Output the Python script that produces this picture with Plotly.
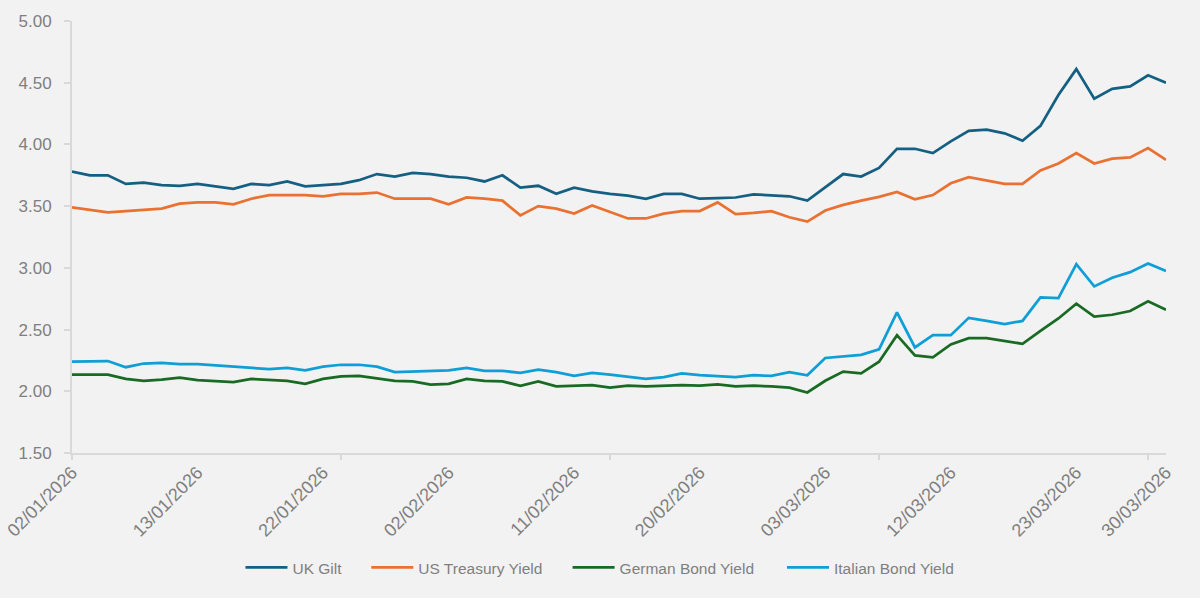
import plotly.graph_objects as go

# Business-day categories (02/01/2026 .. 30/03/2026)
jan = ["02", "05", "06", "07", "08", "09", "12", "13", "14", "15", "16", "19", "20",
       "21", "22", "23", "26", "27", "28", "29", "30"]
feb = ["02", "03", "04", "05", "06", "09", "10", "11", "12", "13", "16", "17", "18",
       "19", "20", "23", "24", "25", "26", "27"]
mar = ["02", "03", "04", "05", "06", "09", "10", "11", "12", "13", "16", "17", "18",
       "19", "20", "23", "24", "25", "26", "27", "30"]
dates = ([d + "/01/2026" for d in jan] + [d + "/02/2026" for d in feb]
         + [d + "/03/2026" for d in mar])

uk_gilt = [3.78, 3.75, 3.75, 3.68, 3.69, 3.67, 3.665, 3.68, 3.66, 3.64, 3.68, 3.67, 3.70,
           3.66, 3.67, 3.68, 3.71, 3.76, 3.74, 3.77, 3.76, 3.74, 3.73, 3.70, 3.75, 3.65,
           3.665, 3.60, 3.65, 3.62, 3.60, 3.585, 3.56, 3.60, 3.60, 3.56, 3.565, 3.57, 3.595,
           3.585, 3.58, 3.545, 3.65, 3.76, 3.74, 3.81, 3.965, 3.965, 3.93, 4.025, 4.11, 4.12,
           4.09, 4.03, 4.15, 4.40, 4.61, 4.37, 4.45, 4.47, 4.56, 4.50]
us_treasury = [3.49, 3.47, 3.45, 3.46, 3.47, 3.48, 3.52, 3.53, 3.53, 3.515, 3.56, 3.59, 3.59,
               3.59, 3.58, 3.60, 3.60, 3.61, 3.56, 3.56, 3.56, 3.515, 3.57, 3.56, 3.545, 3.425,
               3.50, 3.48, 3.44, 3.505, 3.455, 3.40, 3.40, 3.44, 3.46, 3.46, 3.53, 3.435, 3.445,
               3.46, 3.41, 3.375, 3.465, 3.51, 3.545, 3.575, 3.615, 3.555, 3.59, 3.685, 3.735,
               3.71, 3.68, 3.68, 3.79, 3.845, 3.93, 3.845, 3.885, 3.895, 3.97, 3.875]
german = [2.135, 2.135, 2.135, 2.10, 2.085, 2.095, 2.11, 2.09, 2.085, 2.075, 2.10, 2.09, 2.085,
          2.06, 2.10, 2.12, 2.125, 2.105, 2.085, 2.08, 2.055, 2.06, 2.10, 2.085, 2.08, 2.045,
          2.08, 2.04, 2.045, 2.05, 2.03, 2.045, 2.04, 2.045, 2.05, 2.045, 2.055, 2.04, 2.045,
          2.04, 2.03, 1.99, 2.085, 2.16, 2.145, 2.24, 2.455, 2.29, 2.275, 2.38, 2.43, 2.43,
          2.41, 2.385, 2.49, 2.59, 2.71, 2.605, 2.62, 2.65, 2.73, 2.66]
italian = [2.24, 2.245, 2.245, 2.195, 2.225, 2.23, 2.22, 2.22, 2.21, 2.195, 2.185, 2.18, 2.19,
           2.17, 2.20, 2.215, 2.215, 2.20, 2.155, 2.16, 2.16, 2.17, 2.19, 2.165, 2.165, 2.15,
           2.175, 2.155, 2.125, 2.15, 2.135, 2.115, 2.10, 2.115, 2.145, 2.13, 2.125, 2.115,
           2.13, 2.125, 2.155, 2.13, 2.27, 2.285, 2.295, 2.34, 2.64, 2.355, 2.455, 2.455,
           2.595, 2.57, 2.545, 2.57, 2.76, 2.755, 3.03, 2.85, 2.92, 2.965, 3.035, 2.975]

series_names = ["UK Gilt", "US Treasury Yield", "German Bond Yield", "Italian Bond Yield"]
series_values = [uk_gilt, us_treasury, german, italian]
series_colors = ["#156082", "#E97132", "#196B24", "#0F9ED5"]
legend_ids = ["legend", "legend2", "legend3", "legend4"]
legend_x = [0.154, 0.269, 0.453, 0.649]   # left edges of the legend entries (paper units)

label_idx = [0, 7, 14, 21, 28, 35, 42, 49, 56, 61]
tick_labels = [dates[i] for i in label_idx]
tick_marks = [dates[i] for i in range(0, len(dates), 15)]

FONT = "Liberation Sans, Arial, sans-serif"
GREY_TXT = "#7f7f7f"
AXIS_C = "#d9d9d9"
BG = "#f2f2f2"

fig = go.Figure()
for name, vals, col, lg in zip(series_names, series_values, series_colors, legend_ids):
    fig.add_trace(go.Scatter(x=dates, y=vals, name=name, mode="lines", legend=lg,
                             line=dict(color=col, width=2.75)))

# helper trace carrying the secondary axis used only for the x tick marks
fig.add_trace(go.Scatter(x=dates, y=uk_gilt, xaxis="x2", mode="lines",
                         line=dict(width=0), opacity=0, showlegend=False,
                         hoverinfo="skip"))

legend_style = dict(orientation="h", xanchor="left", y=-0.266, yanchor="middle",
                    font=dict(family=FONT, size=15.5, color=GREY_TXT),
                    itemwidth=42, bgcolor="rgba(0,0,0,0)")
legends = {lg: dict(legend_style, x=lx) for lg, lx in zip(legend_ids, legend_x)}

fig.update_layout(
    width=1200, height=598,
    paper_bgcolor=BG, plot_bgcolor=BG,
    margin=dict(l=72, r=34, t=21, b=145),
    font=dict(family=FONT, size=15, color=GREY_TXT),
    showlegend=True,
    **legends,
    xaxis=dict(type="category", categoryorder="array", categoryarray=dates,
               range=[0, len(dates) - 1], tickmode="array", tickvals=tick_labels,
               ticktext=tick_labels, tickangle=-45, ticks="", showgrid=False,
               showline=True, linecolor=AXIS_C, linewidth=2, zeroline=False,
               automargin=False,
               tickfont=dict(family=FONT, size=18, color=GREY_TXT)),
    xaxis2=dict(type="category", categoryorder="array", categoryarray=dates,
                overlaying="x", anchor="y", side="bottom", automargin=False,
                range=[0, len(dates) - 1], tickmode="array", tickvals=tick_marks,
                showticklabels=False, ticks="outside", ticklen=6, tickwidth=2,
                tickcolor=AXIS_C, showgrid=False, showline=False, zeroline=False),
    yaxis=dict(range=[1.5, 5.0], dtick=0.5, tick0=1.5, tickformat=".2f",
               showgrid=False, zeroline=False, showline=True, linecolor=AXIS_C,
               linewidth=2, ticks="outside", ticklen=6, tickwidth=1.5, tickcolor=AXIS_C,
               ticklabelstandoff=9, automargin=False,
               tickfont=dict(family=FONT, size=17, color=GREY_TXT)),
)

fig.write_html("out.html", config={"displayModeBar": False})

# remove the browser's default page margin so the figure fills the window
with open("out.html", "r", encoding="utf-8") as f:
    html = f.read()
html = html.replace("<body>", '<body style="margin:0;padding:0;">', 1)
with open("out.html", "w", encoding="utf-8") as f:
    f.write(html)
